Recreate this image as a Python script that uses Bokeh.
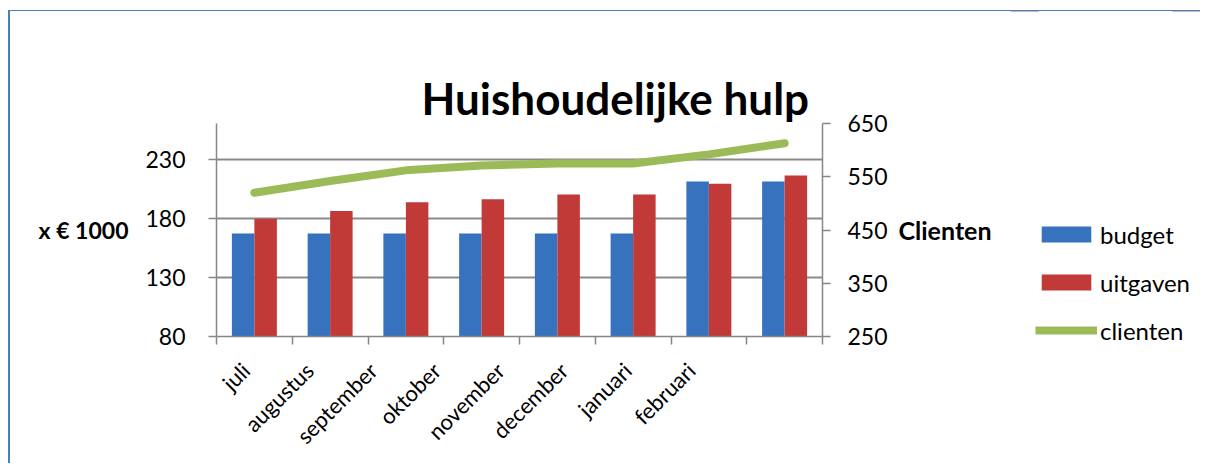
import math
from bokeh.plotting import figure
from bokeh.layouts import row
from bokeh.models import (Range1d, LinearAxis, FixedTicker, Legend,
                          LegendItem, ColumnDataSource, Title)
from bokeh.transform import dodge
from bokeh.embed import file_html
from bokeh.resources import INLINE

months = ["juli", "augustus", "september", "oktober", "november", "december", "januari", "februari"]
budget = [167, 167, 167, 167, 167, 167, 211, 211]
uitgaven = [179.5, 186, 193.5, 196, 200, 200, 209, 216]
clienten = [520, 542, 562, 571, 575, 575, 592, 613]
left_ticks = [80, 130, 180, 230]
right_ticks = [250, 350, 450, 550, 650]

n = len(months)
pos = list(range(n))
src = ColumnDataSource(dict(x=pos, budget=budget, uitgaven=uitgaven, clienten=clienten))

GRAY = "#868686"
FONT = "Lato"
BLUE = "#3772BE"
RED = "#C23A37"
GREEN = "#9BBB59"

p = figure(width=1000, height=452, output_backend="svg", toolbar_location=None,
           x_range=Range1d(-0.5, n - 0.5), y_range=Range1d(80, 260),
           min_border_left=206, min_border_right=188, min_border_top=112,
           min_border_bottom=127)
p.frame_align = False
p.outline_line_color = None
p.background_fill_color = "white"
p.border_fill_color = "white"
p.extra_y_ranges = {"cl": Range1d(250, 650)}

# title in the default slot; an invisible spacer (added later, so it sits next
# to the frame) lifts it to the reference's height
p.title.text = "Huishoudelijke hulp"
p.title.text_font = FONT
p.title.text_font_style = "bold"
p.title.text_font_size = "44px"
p.title.text_color = "black"
p.title.align = "left"
p.title.offset = 205
p.title.standoff = 0
p.add_layout(Title(text=".", text_font_size="10px", text_alpha=0, standoff=24), "above")

bw = 0.297
rb = p.vbar(x=dodge("x", -bw / 2), top="budget", bottom=80, width=bw, source=src,
            fill_color=BLUE, line_color=None)
ru = p.vbar(x=dodge("x", bw / 2), top="uitgaven", bottom=80, width=bw, source=src,
            fill_color=RED, line_color=None)
rl = p.line("x", "clienten", source=src, y_range_name="cl", line_width=8,
            line_color=GREEN, line_cap="round", line_join="round")

# x axis: boundary ticks between categories, labels placed as in the reference
label_x0, label_step = -0.113, 0.840
label_pos = [label_x0 + label_step * i for i in range(n)]
xa = p.xaxis[0]
xa.ticker = FixedTicker(ticks=label_pos, minor_ticks=[i - 0.5 for i in range(n + 1)])
xa.major_label_overrides = {t: m for t, m in zip(label_pos, months)}
xa.major_tick_line_color = None
xa.major_tick_out = 0
xa.major_tick_in = 0
xa.minor_tick_line_color = GRAY
xa.minor_tick_line_width = 1.5
xa.minor_tick_out = 8
xa.minor_tick_in = 0
xa.axis_line_color = GRAY
xa.axis_line_width = 1.5
xa.major_label_orientation = math.pi / 4
xa.major_label_text_font = FONT
xa.major_label_text_font_size = "22px"
xa.major_label_text_color = "black"
xa.major_label_standoff = 22
p.xgrid.visible = False

# left axis
ya = p.yaxis[0]
ya.ticker = FixedTicker(ticks=left_ticks)
p.ygrid.ticker = FixedTicker(ticks=left_ticks)
p.ygrid.grid_line_color = "#8A8A8A"
p.ygrid.grid_line_width = 2

ra = LinearAxis(y_range_name="cl", ticker=FixedTicker(ticks=right_ticks))
p.add_layout(ra, "right")

for ax in (ya, ra):
    ax.axis_line_color = GRAY
    ax.axis_line_width = 1.5
    ax.major_tick_line_color = GRAY
    ax.major_tick_line_width = 1.5
    ax.major_tick_out = 8
    ax.major_tick_in = 0
    ax.minor_tick_line_color = None
    ax.major_label_text_font = FONT
    ax.major_label_text_font_size = "23px"
    ax.major_label_text_color = "black"
    ax.axis_label_text_font = FONT
    ax.axis_label_text_font_style = "bold"
    ax.axis_label_text_color = "black"
    ax.axis_label_orientation = "horizontal"

ya.major_label_standoff = 23
ya.axis_label = "x € 1000"
ya.axis_label_standoff = 14
ya.axis_label_text_font_size = "23px"
ra.major_label_standoff = 17
ra.axis_label = "Clienten"
ra.axis_label_standoff = 8
ra.axis_label_text_font_size = "25px"

# legend panel: a separate figure to the right; its renderers use the same
# data but lie outside its (unit) ranges, so only the legend shows
lg = figure(width=190, height=452, output_backend="svg", toolbar_location=None,
            x_range=Range1d(0, 1), y_range=Range1d(0, 1),
            x_axis_type=None, y_axis_type=None, min_border=0)
lg.frame_align = False
lg.outline_line_color = None
lg.background_fill_color = "white"
lg.border_fill_color = "white"
lg.xgrid.visible = False
lg.ygrid.visible = False
lb = lg.vbar(x="x", top="budget", bottom=80, width=bw, source=src,
             fill_color=BLUE, line_color=None)
lu = lg.vbar(x="x", top="uitgaven", bottom=80, width=bw, source=src,
             fill_color=RED, line_color=None)
ll = lg.line(x="x", y="clienten", source=src, line_width=8, line_color=GREEN,
             line_cap="butt")

legend = Legend(items=[LegendItem(label="budget", renderers=[lb]),
                       LegendItem(label="uitgaven", renderers=[lu]),
                       LegendItem(label="clienten", renderers=[ll])],
                location=(25, 118), orientation="vertical",
                glyph_width=62, glyph_height=20, label_standoff=3,
                padding=0, margin=0, spacing=18, label_height=30,
                border_line_color=None, background_fill_alpha=0,
                label_text_font=FONT, label_text_font_size="24px",
                label_text_color="black")
lg.add_layout(legend, "center")

layout = row(p, lg, spacing=0)
layout.styles = {"border-left": "2px solid #4A7EBF", "border-top": "1px solid #4A7EBF",
                 "margin-top": "10px", "margin-left": "8px"}

open("out.html", "w").write(file_html(layout, INLINE))
